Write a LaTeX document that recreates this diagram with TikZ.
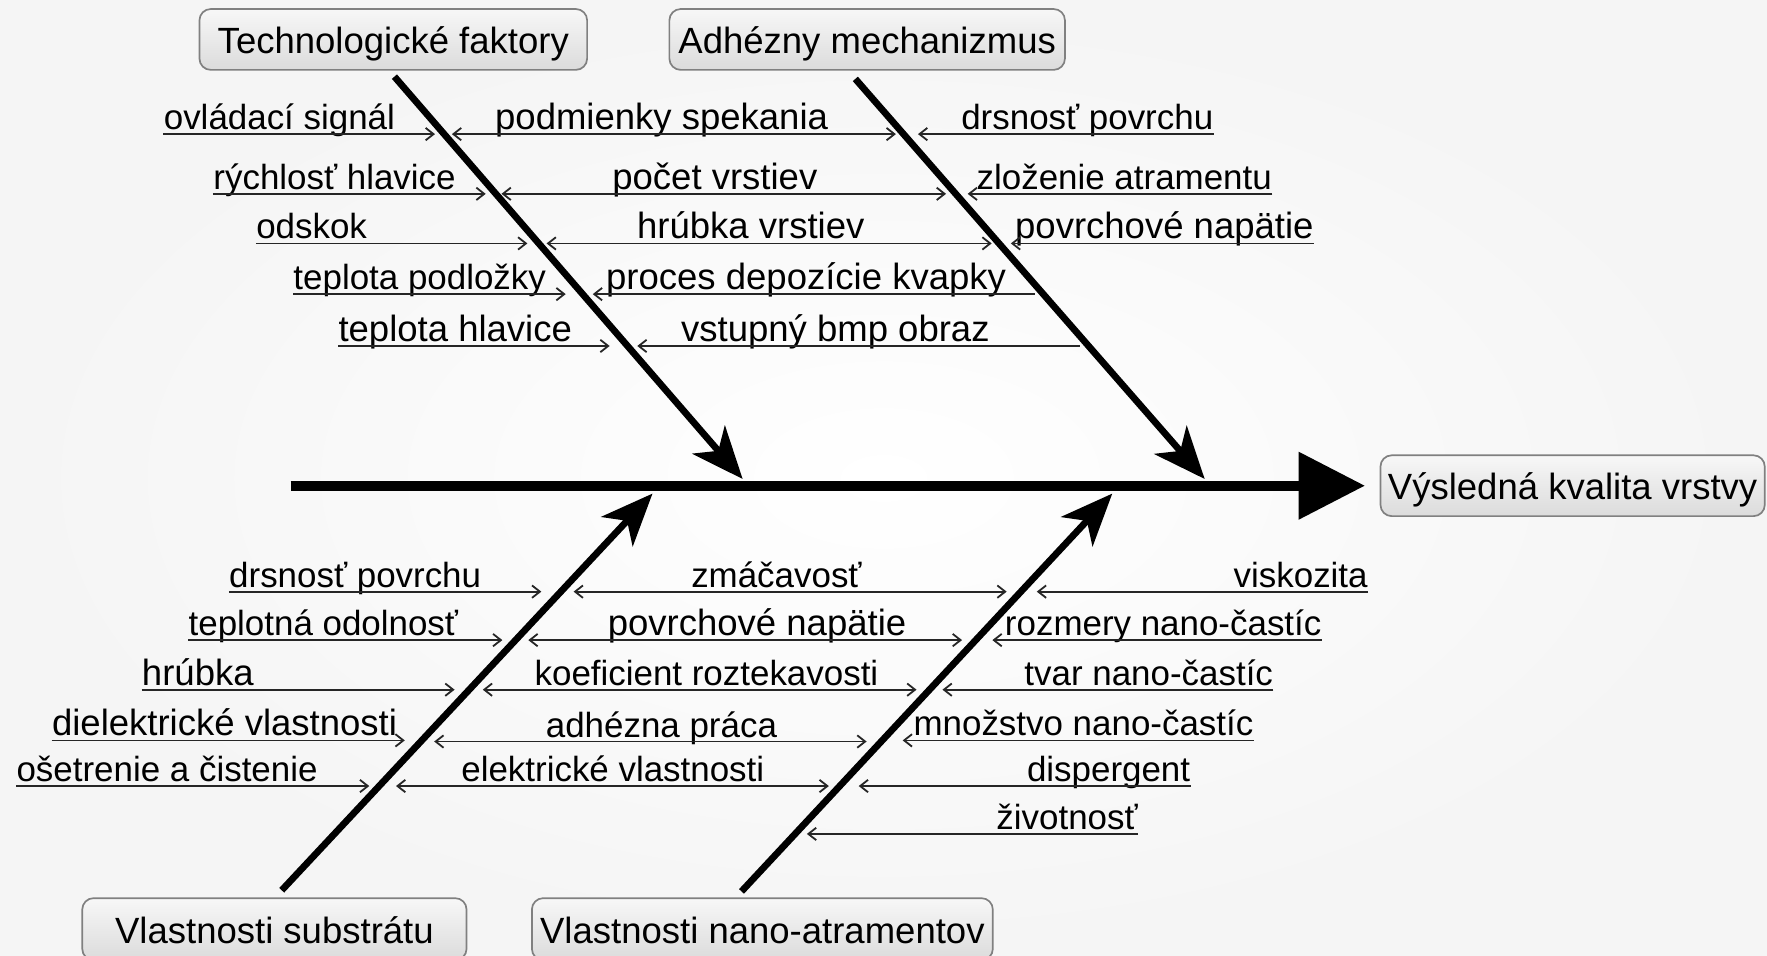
\documentclass[tikz,border=0pt]{standalone}
\usepackage{fontspec}
\setmainfont{Liberation Sans}
\usetikzlibrary{arrows.meta}
% left cause: [label style], name, text, x start, line y, arrow tip x
\newcommand\causeL[6][lbl]{%
  \node[#1, anchor=base west] (#2) at (#4,#5-4) {#3};
  \coordinate (#2s) at (#4,#5);
  \coordinate (#2t) at (#6,#5);
  \draw[subr] (#2s) -- (#2t);}
% middle cause: [label style], name, text, x text, line y, left tip, right end, arrow style
\newcommand\causeM[8][lbl]{%
  \node[#1, anchor=base west] (#2) at (#4,#5-4) {#3};
  \coordinate (#2a) at (#6,#5);
  \coordinate (#2b) at (#7,#5);
  \draw[#8] (#2a) -- (#2b);}
% right cause: [label style], name, text, x end, line y, left tip
\newcommand\causeR[6][lbl]{%
  \node[#1, anchor=base east] (#2) at (#4,#5-4) {#3};
  \coordinate (#2s) at (#4,#5);
  \coordinate (#2t) at (#6,#5);
  \draw[subr] (#2s) -- (#2t);}
\begin{document}
\begin{tikzpicture}[x=0.5pt,y=-0.5pt,
  lbl/.style={font=\fontsize{15.5}{18}\selectfont, inner sep=0pt},
  lblbig/.style={font=\fontsize{16.2}{19}\selectfont, inner sep=0pt},
  subline/.style={draw=black!85, line width=0.8pt},
  subr/.style={subline, -{Straight Barb[length=3.5pt,width=5.5pt]}},
  subl/.style={subline, {Straight Barb[length=3.5pt,width=5.5pt]}-},
  subb/.style={subline, {Straight Barb[length=3.5pt,width=5.5pt]}-{Straight Barb[length=3.5pt,width=5.5pt]}},
  bone/.style={line width=3pt, -{Stealth[length=23pt,width=19pt,inset=6.5pt]}},
  spine/.style={line width=4.5pt, -{Triangle[length=29.5pt,width=29pt]}},
  catbox/.style={draw=black!50, line width=0.75pt, rounded corners=5pt,
    top color=black!3, bottom color=black!14,
    font=\fontsize{16.2}{19}\selectfont, inner sep=0pt,
    minimum height=27pt, text height=15.8pt, text depth=3.5pt}]
\clip (0,0) rectangle (1568,848.3);
\shade[inner color=white, outer color=black!4] (0,0) rectangle (1568,848.3);

% category boxes
\node[catbox, minimum width=172pt] (tech) at (349,35) {Technologické faktory};
\node[catbox, minimum width=175.5pt] (adh) at (769.5,35) {Adhézny mechanizmus};
\node[catbox, minimum width=170.5pt, minimum height=27.5pt] (subs) at (243.5,824.5) {Vlastnosti substrátu};
\node[catbox, minimum width=204.5pt, minimum height=27.5pt] (ink) at (676.5,824.5) {Vlastnosti nano-atramentov};
\node[catbox, minimum width=170.5pt] (res) at (1395.5,431) {Výsledná kvalita vrstvy};

% spine
\coordinate (sp0) at (258,431);
\draw[spine, shorten >=6.5pt] (sp0) -- (res.west);

% bones
\coordinate (b1s) at (350,68);  \coordinate (b1t) at (659,425);
\coordinate (b2s) at (759,70);  \coordinate (b2t) at (1069,425);
\coordinate (b3s) at (250,790); \coordinate (b3t) at (579,438);
\coordinate (b4s) at (658,791); \coordinate (b4t) at (987,438);
\draw[bone] (b1s) -- (b1t);
\draw[bone] (b2s) -- (b2t);
\draw[bone] (b3s) -- (b3t);
\draw[bone] (b4s) -- (b4t);

% top left causes
\causeL{ta}{ovládací signál}{145}{119}{386}
\causeL{tb}{rýchlosť hlavice}{189}{172}{431}
\causeL{tc}{odskok}{227}{216}{468}
\causeL{td}{teplota podložky}{260}{261}{502}
\causeL[lblbig]{te}{teplota hlavice}{300}{307}{541}

% top middle causes
\causeM[lblbig]{ma}{podmienky spekania}{439}{119}{401}{795}{subb}
\causeM[lblbig]{mb}{počet vrstiev}{543}{172}{445}{839.5}{subb}
\causeM[lblbig]{mc}{hrúbka vrstiev}{565}{216}{485}{880}{subb}
\causeM[lblbig]{md}{proces depozície kvapky}{537.5}{261}{526}{918.5}{subl}
\causeM[lblbig]{me}{vstupný bmp obraz}{604}{307}{565.5}{958}{subl}

% top right causes
\causeR{ra}{drsnosť povrchu}{1077}{119}{814.6}
\causeR{rb}{zloženie atramentu}{1129}{172}{858.7}
\causeR[lblbig]{rc}{povrchové napätie}{1166}{216}{897}

% bottom left causes
\causeL{ba}{drsnosť povrchu}{203}{525}{480.4}
\causeL{bb}{teplotná odolnosť}{167}{568}{445.8}
\causeL[lblbig]{bc}{hrúbka}{125.6}{612}{403.4}
\causeL[lblbig]{bd}{dielektrické vlastnosti}{45.8}{657}{359.2}
\causeL{be}{ošetrenie a čistenie}{14.3}{697.5}{327.7}

% bottom middle causes
\causeM{na}{zmáčavosť}{613}{525}{509}{893.3}{subb}
\causeM[lblbig]{nb}{povrchové napätie}{539}{568}{468.8}{853.7}{subb}
\causeM{nc}{koeficient roztekavosti}{474}{612}{428.4}{813.3}{subb}
\causeM{nd}{adhézna práca}{484}{658}{385.3}{769}{subb}
\causeM{ne}{elektrické vlastnosti}{409}{697.5}{351.4}{735.5}{subb}

% bottom right causes
\causeR{qa}{viskozita}{1214}{525}{920}
\causeR{qb}{rozmery nano-častíc}{1173}{568}{880.6}
\causeR{qc}{tvar nano-častíc}{1130}{612}{836.3}
\causeR{qd}{množstvo nano-častíc}{1112.6}{657}{801}
\causeR{qe}{dispergent}{1056.5}{697.5}{762}
\causeR{qf}{životnosť}{1010}{740}{716}
\end{tikzpicture}
\end{document}
